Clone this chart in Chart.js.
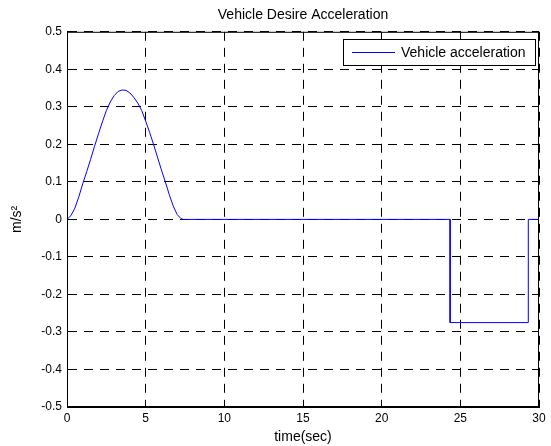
<!DOCTYPE html>
<html>
<head>
<meta charset="utf-8">
<script src="https://cdn.jsdelivr.net/npm/chart.js@4/dist/chart.umd.min.js"></script>
<style>
  html, body { margin: 0; padding: 0; background: #fff; }
  #wrap { width: 551px; height: 446px; }
</style>
</head>
<body>
<div id="wrap"><canvas id="accChart" width="551" height="446"></canvas></div>
<script>
// values
const timeSec = [0, 0.25, 0.5, 0.75, 1.0, 1.25, 1.5, 1.75, 2.0, 2.25, 2.5, 2.75, 3.0, 3.25, 3.5, 3.75,
    4.0, 4.25, 4.5, 4.75, 5.0, 5.25, 5.5, 5.75, 6.0, 6.25, 6.5, 6.75, 7.0, 7.25, 7.4,
    24.35, 24.35, 29.32, 29.32, 30];
const accel = [0, 0.01, 0.03, 0.06, 0.095, 0.127, 0.16, 0.195, 0.228, 0.26, 0.29, 0.313, 0.33, 0.341, 0.345, 0.344,
    0.337, 0.325, 0.31, 0.29, 0.262, 0.232, 0.2, 0.166, 0.132, 0.1, 0.066, 0.036, 0.013, 0.002, 0,
    0, -0.275, -0.275, 0, 0];
const seriesName = 'Vehicle acceleration';
const chartTitle = 'Vehicle Desire Acceleration';
const xLabel = 'time(sec)';
const yLabel = 'm/s\u00B2';

const FONT = "'Liberation Sans', Arial, sans-serif";

// MATLAB style frame + legend box in the upper right
const matlabBox = {
    id: 'matlabBox',
    afterDatasetsDraw(chart) {
        const ctx = chart.ctx;
        const a = chart.chartArea;
        ctx.save();
        ctx.strokeStyle = '#000';
        ctx.lineWidth = 1;
        ctx.strokeRect(a.left + 0.5, a.top + 0.5, a.right - a.left - 1, a.bottom - a.top - 1);

        // legend
        const ds = chart.data.datasets[0];
        const bx = 343.5, by = 39.5, bw = 192, bh = 26;
        ctx.fillStyle = '#fff';
        ctx.fillRect(bx, by, bw, bh);
        ctx.strokeRect(bx, by, bw, bh);
        ctx.strokeStyle = ds.borderColor;
        ctx.beginPath();
        ctx.moveTo(352, by + bh / 2);
        ctx.lineTo(395, by + bh / 2);
        ctx.stroke();
        ctx.fillStyle = '#000';
        ctx.font = '14px ' + FONT;
        ctx.textBaseline = 'middle';
        ctx.fillText(ds.label, 401, by + bh / 2 + 0.5);
        ctx.restore();
    }
};

const points = timeSec.map((t, i) => ({ x: t, y: accel[i] }));

new Chart(document.getElementById('accChart'), {
    type: 'line',
    data: {
        datasets: [{
            label: seriesName,
            data: points,
            borderColor: '#0000ff',
            borderWidth: 1,
            pointRadius: 0,
            tension: 0,
            fill: false
        }]
    },
    options: {
        responsive: false,
        animation: false,
        layout: { padding: { left: 0, right: 12, top: 0, bottom: 0 } },
        plugins: {
            legend: { display: false },
            tooltip: { enabled: false },
            title: {
                display: true,
                text: chartTitle,
                fullSize: false,
                color: '#000',
                font: { family: FONT, size: 14, weight: 'normal' },
                padding: { top: 7, bottom: 8 }
            }
        },
        scales: {
            x: {
                type: 'linear',
                min: 0,
                max: 30,
                afterFit: function(scale) { scale.height = 39; },
                ticks: {
                    stepSize: 5,
                    color: '#000',
                    padding: 4,
                    maxRotation: 0,
                    font: { family: FONT, size: 12 }
                },
                grid: {
                    color: '#000',
                    lineWidth: 1,
                    drawTicks: false
                },
                border: { display: true, color: '#000', dash: [9, 7] },
                title: {
                    display: true,
                    text: xLabel,
                    color: '#000',
                    font: { family: FONT, size: 14 },
                    padding: { top: 3, bottom: 0 }
                }
            },
            y: {
                min: -0.5,
                max: 0.5,
                afterFit: function(scale) { scale.width = 67; },
                ticks: {
                    stepSize: 0.1,
                    color: '#000',
                    padding: 5,
                    font: { family: FONT, size: 12 }
                },
                grid: {
                    color: '#000',
                    lineWidth: 1,
                    drawTicks: false
                },
                border: { display: true, color: '#000', dash: [9, 7] },
                title: {
                    display: true,
                    text: yLabel,
                    color: '#000',
                    font: { family: FONT, size: 14 },
                    padding: { top: 9, bottom: 0 }
                }
            }
        }
    },
    plugins: [matlabBox]
});

// dashed grid lines like MATLAB's grid on
Chart.defaults.borderDash = [9, 7];
</script>
</body>
</html>
